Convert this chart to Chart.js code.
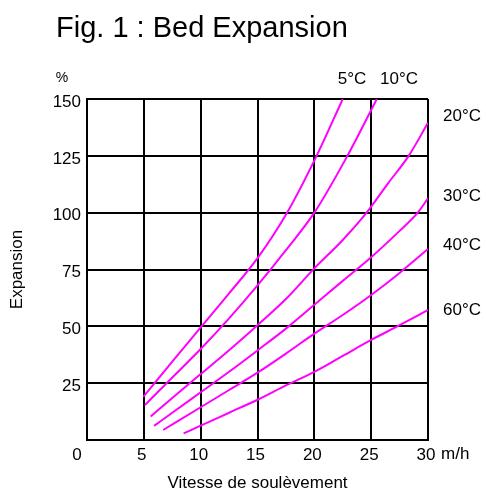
<!DOCTYPE html>
<html>
<head>
<meta charset="utf-8">
<script src="https://cdn.jsdelivr.net/npm/chart.js@4"></script>
<style>
  html, body { margin: 0; padding: 0; background: #fff; }
  canvas { display: block; }
</style>
</head>
<body>
<canvas id="mychart" width="486" height="492"></canvas>
<script>
// (speed m/h -> expansion %)
const temps = ['5°C', '10°C', '20°C', '30°C', '40°C', '60°C'];
const speed5 = [4.95, 7.5, 10, 12.5, 15, 17.6, 20.2, 22.5];
const exp5 = [19, 34.5, 49.5, 64.5, 80, 100, 125, 150];
const speed10 = [5.1, 7.5, 10, 12.5, 15, 17.5, 20, 22.8, 25.5];
const exp10 = [15.4, 27.5, 40, 53.5, 68, 83.5, 100, 124, 150];
const speed20 = [5.6, 7.5, 10, 12.5, 15, 17.5, 20, 22.5, 24.6, 26.5, 28.3, 30];
const exp20 = [10.3, 18.5, 29, 39.5, 50.5, 62, 75.5, 88, 100, 113, 125, 139.5];
const speed30 = [5.9, 7.5, 10, 12.5, 15, 17.5, 20, 22.5, 25, 27.5, 29.1, 30];
const exp30 = [6.2, 12, 21, 30, 39.4, 49, 59.5, 70, 80.4, 92, 100, 106.3];
const speed40 = [6.7, 10, 12.5, 15, 17.5, 20, 22.5, 25, 27.5, 30];
const exp40 = [4.4, 14.4, 22, 29.6, 38, 46.8, 55, 63.8, 73.5, 84];
const speed60 = [8.5, 10, 12.5, 15, 17.5, 20, 22.5, 25, 27.5, 30];
const exp60 = [2.9, 6.3, 12, 17.7, 24, 30, 37, 44, 50.5, 57.2];
const xTicks = [0, 5, 10, 15, 20, 25, 30];
const yTicks = [0, 25, 50, 75, 100, 125, 150];

const FONT = '"Liberation Sans", Arial, sans-serif';
const curves = [[speed5, exp5], [speed10, exp10], [speed20, exp20], [speed30, exp30], [speed40, exp40], [speed60, exp60]];

const datasets = curves.map((c, k) => ({
  label: temps[k],
  data: c[0].map((x, i) => ({ x: x, y: c[1][i] })),
  borderColor: '#ff00ff',
  borderWidth: 2,
  pointRadius: 0,
  fill: false,
  cubicInterpolationMode: 'monotone'
}));

// extra texts: title, unit, curve names, the origin "0"
const labelsPlugin = {
  id: 'labels',
  afterDraw(chart) {
    const ctx = chart.ctx;
    const xs = chart.scales.x;
    ctx.save();
    ctx.fillStyle = '#000';
    ctx.textBaseline = 'alphabetic';
    ctx.textAlign = 'left';
    ctx.font = '29px ' + FONT;
    ctx.fillText('Fig. 1 : Bed Expansion', 56, 37);

    ctx.textBaseline = 'middle';
    ctx.textAlign = 'center';
    ctx.font = '14px ' + FONT;
    ctx.fillText('%', 62, 78);

    ctx.font = '17px ' + FONT;
    ctx.fillText(temps[0], 352, 79);
    ctx.fillText(temps[1], 399, 79);
    ctx.fillText(String(xTicks[0]), xs.getPixelForValue(xTicks[0]) - 10, 455);

    ctx.textAlign = 'left';
    ctx.fillText(temps[2], 443, 116);
    ctx.fillText(temps[3], 443, 196);
    ctx.fillText(temps[4], 443, 245);
    ctx.fillText(temps[5], 443, 310);
    ctx.fillText('m/h', 441, 454);
    ctx.restore();
  }
};

const chart = document.getElementById('mychart').getContext('2d');
let expansionChart = new Chart(chart, {
  type: 'line',
  data: { datasets: datasets },
  options: {
    responsive: false,
    animation: false,
    devicePixelRatio: 1,
    layout: { padding: { left: 0, right: 58, top: 99, bottom: 0 } },
    plugins: {
      legend: { display: false },
      tooltip: { enabled: false }
    },
    scales: {
      x: {
        type: 'linear',
        min: xTicks[0],
        max: xTicks[xTicks.length - 1],
        afterBuildTicks: (s) => { s.ticks = xTicks.map(v => ({ value: v })); },
        afterFit: (s) => { s.height = 52; },
        ticks: {
          color: '#000',
          font: { family: FONT, size: 17 },
          padding: 5,
          maxRotation: 0,
          labelOffset: -2,
          callback: (v) => v === 0 ? '' : v
        },
        grid: { color: '#000', lineWidth: 2, drawTicks: false },
        border: { color: '#000', width: 2 },
        title: {
          display: true,
          text: 'Vitesse de soulèvement',
          color: '#000',
          font: { family: FONT, size: 17, lineHeight: 1 },
          padding: 0
        }
      },
      y: {
        min: yTicks[0],
        max: yTicks[yTicks.length - 1],
        afterBuildTicks: (s) => { s.ticks = yTicks.map(v => ({ value: v })); },
        afterFit: (s) => { s.width = 87; },
        ticks: {
          color: '#000',
          font: { family: FONT, size: 17 },
          padding: 6,
          labelOffset: 3,
          callback: (v) => v === 0 ? '' : v
        },
        grid: { color: '#000', lineWidth: 2, drawTicks: false },
        border: { color: '#000', width: 2 },
        title: {
          display: true,
          text: 'Expansion',
          color: '#000',
          font: { family: FONT, size: 17, lineHeight: 1 },
          padding: { top: 9, bottom: 0 }
        }
      }
    }
  },
  plugins: [labelsPlugin]
});
</script>
</body>
</html>
